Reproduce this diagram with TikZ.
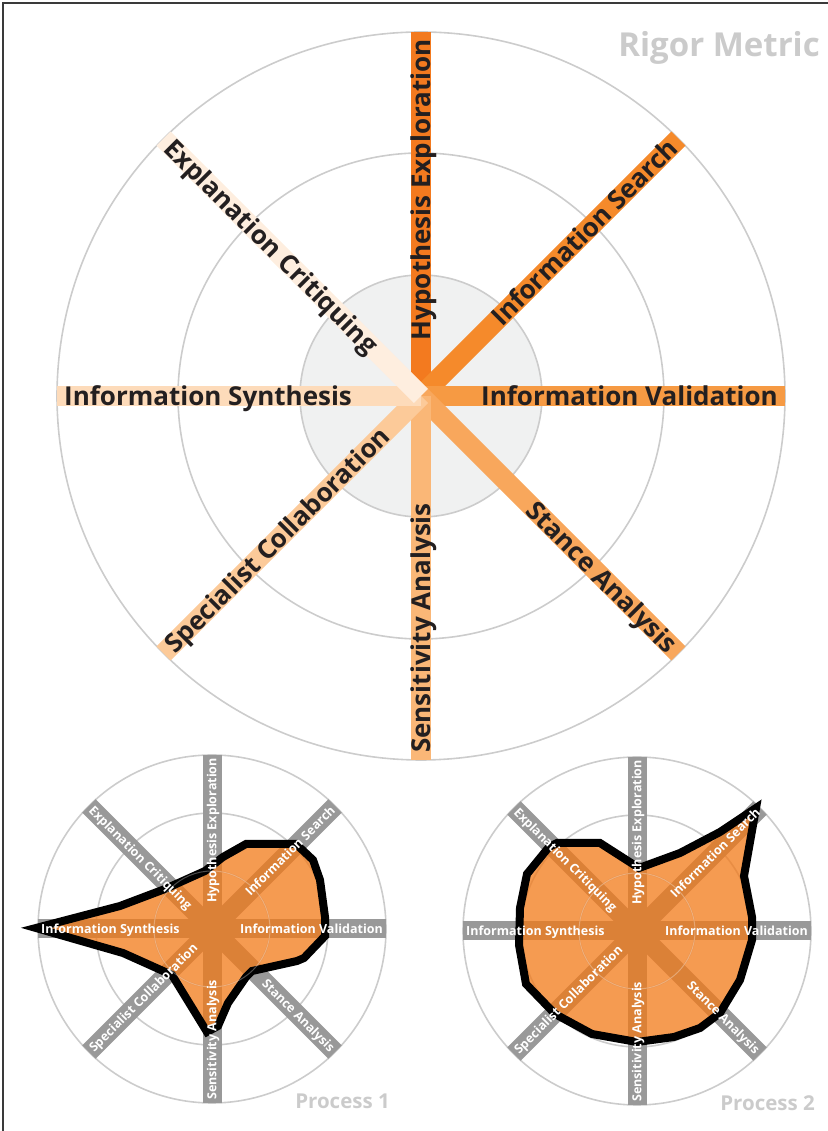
\documentclass[tikz,border=0pt]{standalone}
\usepackage{fontspec}
\setmainfont{Open Sans}

\definecolor{ringgray}{HTML}{CCCCCC}
\definecolor{innergray}{HTML}{F0F1F1}
\definecolor{bargray}{HTML}{999999}
\definecolor{titlegray}{HTML}{CBCBCB}
\definecolor{labelblack}{HTML}{231F20}
\definecolor{framegray}{HTML}{3A3A3A}
\definecolor{profileorange}{HTML}{F27917}
\definecolor{rig1}{HTML}{F37A1F}
\definecolor{rig2}{HTML}{F58A2B}
\definecolor{rig3}{HTML}{F69A43}
\definecolor{rig4}{HTML}{F8A75C}
\definecolor{rig5}{HTML}{FAB777}
\definecolor{rig6}{HTML}{FCCA99}
\definecolor{rig7}{HTML}{FDDBBA}
\definecolor{rig8}{HTML}{FEEEDF}

\tikzset{
  ring/.style={draw=ringgray, line width=1.6},
  rigbar/.style={line width=20},
  smallbar/.style={draw=bargray, line width=19},
  biglabel/.style={font=\fontsize{26}{26}\selectfont\bfseries, text=labelblack,
    inner sep=0, text height=18.6pt, text depth=0pt},
  smalllabel/.style={font=\fontsize{12.5}{12.5}\selectfont\bfseries, text=white,
    inner sep=0, text height=8.9pt, text depth=0pt},
  profile/.style={fill=profileorange, fill opacity=0.75, draw=black,
    line width=8, line join=miter},
  plotname/.style={font=\fontsize{20.5}{20.5}\selectfont\bfseries, text=titlegray, inner sep=0}
}

\begin{document}
\begin{tikzpicture}[x=1pt,y=1pt]
  \useasboundingbox (0,0) rectangle (827,1131);
  \draw[framegray, line width=2] (3,-10) -- (3,1128) -- (840,1128);

  % rigor metric
  \coordinate (rig) at (421,735);
  \fill[innergray] (rig) circle (121);
  \foreach \r in {121,243,364}{
    \draw[ring] (rig) circle (\r);
  }
  \foreach \ang/\col in {90/rig1,45/rig2,0/rig3,-45/rig4,-90/rig5,-135/rig6,180/rig7,135/rig8}{
    \draw[rigbar, \col] (rig) -- ++(\ang:364);
  }
  \foreach \ang/\rot/\side/\txt [count=\k] in {
      90/90/east/Hypothesis Exploration,
      45/45/east/Information Search,
      0/0/east/Information Validation,
      -45/-45/east/Stance Analysis,
      -90/90/west/Sensitivity Analysis,
      -135/45/west/Specialist Collaboration,
      180/0/west/Information Synthesis,
      135/-45/west/Explanation Critiquing}{
    \node[biglabel, rotate=\rot, anchor=\side] (rig-\k) at ([shift={(\ang:357)}]rig) {\txt};
  }
  \node[plotname, font=\fontsize{33}{33}\selectfont\bfseries, anchor=base east] (rigtitle) at (820,1074) {Rigor Metric};

  % process charts
  \foreach \pname/\px/\py/\ptitle in {p1/212/202/Process 1, p2/637/200/Process 2}{
    \coordinate (\pname) at (\px,\py);
    \foreach \r in {58,116,174}{
      \draw[ring] (\pname) circle (\r);
    }
    \foreach \ang in {90,45,0,-45,-90,-135,180,135}{
      \draw[smallbar] (\pname) -- ++(\ang:174);
    }
    \node[plotname, anchor=base east] (\pname-title) at ([shift={(178,-180)}]\pname) {\ptitle};
  }

  \draw[profile, shift={(p1)}] (-176,1) -- (-92,23) -- (-47,40) -- (-7,58) -- (11,72)
    -- (34,85) -- (84,85) -- (101,69) -- (108,49) -- (113,12) -- (113,-7) -- (92,-29)
    -- (85,-32) -- (40,-42) -- (34,-48) -- (16,-74) -- (6,-97) -- (-5,-103)
    -- (-40,-46) -- (-89,-24) -- cycle;
  \draw[profile, shift={(p2)}] (119,123) -- (107,55) -- (115,14) -- (115,-9) -- (103,-49)
    -- (83,-82) -- (63,-97) -- (37,-106) -- (0,-111) -- (-45,-103) -- (-82,-83)
    -- (-111,-53) -- (-118,-14) -- (-117,23) -- (-110,57) -- (-88,84) -- (-80,88)
    -- (-37,88) -- (-23,79) -- (2,63) -- (43,78) -- (83,99) -- cycle;

  \foreach \pname in {p1,p2}{
    \draw[white, opacity=0.3, line width=1] (\pname) circle (58);
    \foreach \ang/\rot/\side/\txt [count=\k] in {
        90/90/east/Hypothesis Exploration,
        45/45/east/Information Search,
        0/0/east/Information Validation,
        -45/-45/east/Stance Analysis,
        -90/90/west/Sensitivity Analysis,
        -135/45/west/Specialist Collaboration,
        180/0/west/Information Synthesis,
        135/-45/west/Explanation Critiquing}{
      \node[smalllabel, rotate=\rot, anchor=\side] (\pname-\k) at ([shift={(\ang:171)}]\pname) {\txt};
    }
  }
\end{tikzpicture}
\end{document}
